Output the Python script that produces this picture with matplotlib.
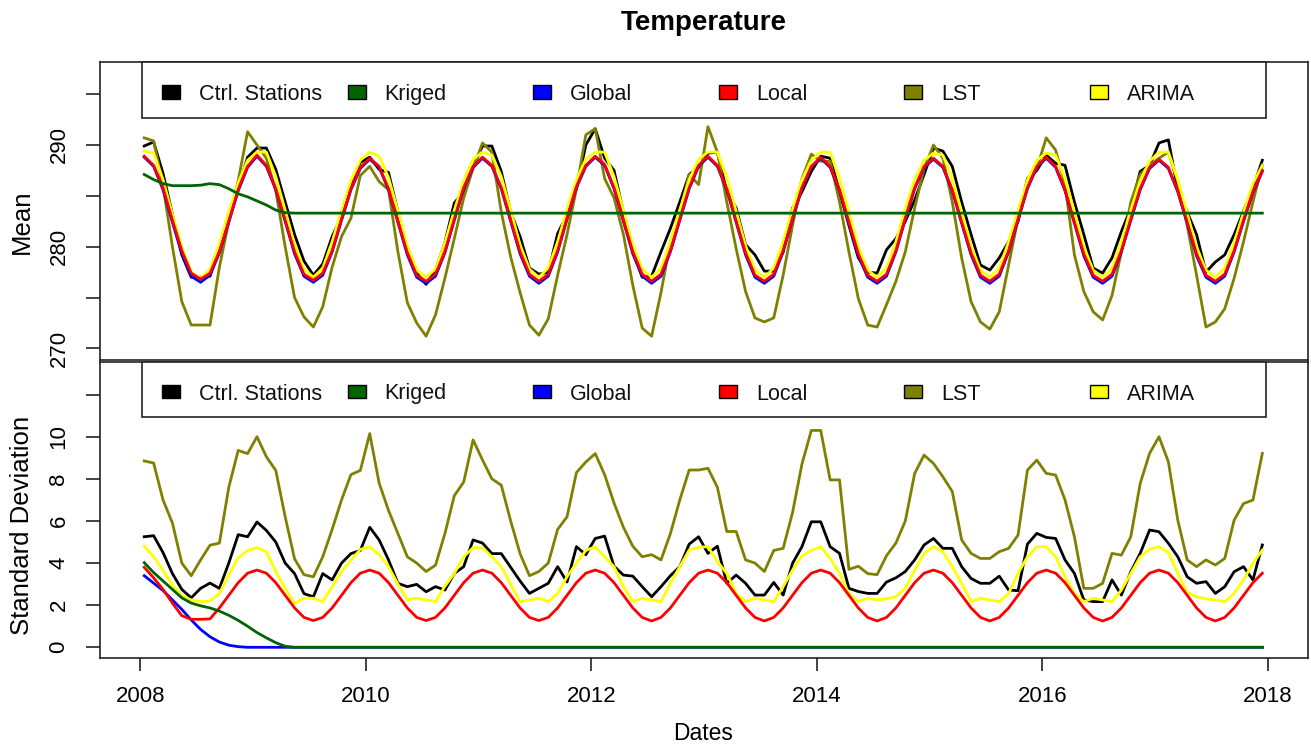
import numpy as np
import matplotlib
matplotlib.use("Agg")
import matplotlib.pyplot as plt
from matplotlib.patches import Rectangle

plt.rcParams["font.family"] = ["Liberation Sans", "DejaVu Sans"]

# monthly series, Jan 2008 .. Dec 2017
dates = 2008 + (np.arange(120) + 0.4) / 12

ctrl_mean = [
    289.9, 290.3, 287.2, 283.2, 279.2, 277.0, 277.0, 277.1, 280.0, 283.3, 285.8, 288.8,
    289.7, 289.7, 287.6, 284.4, 281.2, 278.6, 277.2, 278.3, 281.0, 283.0, 286.2, 288.3,
    288.8, 287.6, 287.3, 283.4, 279.5, 277.4, 276.3, 277.7, 280.4, 284.3, 285.4, 287.8,
    289.9, 289.9, 287.4, 283.4, 281.0, 277.9, 277.3, 277.5, 281.3, 283.1, 285.7, 290.0,
    291.6, 288.7, 287.5, 283.4, 279.5, 277.0, 277.1, 279.5, 281.8, 284.4, 287.1, 287.8,
    289.2, 289.3, 285.4, 283.8, 280.2, 279.2, 277.6, 277.6, 279.5, 283.8, 285.4, 287.4,
    288.9, 288.7, 285.4, 282.1, 278.9, 277.5, 277.4, 279.7, 280.8, 282.5, 284.6, 287.1,
    289.7, 289.4, 287.9, 284.4, 281.2, 278.2, 277.7, 278.9, 280.5, 282.5, 286.6, 287.5,
    289.0, 288.2, 288.0, 284.4, 281.2, 277.9, 277.4, 278.9, 281.5, 283.8, 287.4, 288.0,
    290.2, 290.5, 285.6, 283.4, 281.2, 277.5, 278.5, 279.2, 281.2, 283.5, 285.8, 288.5,
]
kriged_mean = [
    287.1, 286.6, 286.2, 286.0, 286.0, 286.0, 286.05, 286.2, 286.1, 285.7, 285.2, 284.9,
    284.5, 284.1, 283.6, 283.35,
] + [283.3] * 104
global_mean = [
    288.8, 287.9, 285.6, 282.4, 279.3, 277.1, 276.5, 277.2, 279.4, 282.4, 285.5, 287.8,
    288.9, 287.9, 285.6, 282.5, 279.3, 277.1, 276.5, 277.2, 279.5, 282.6, 285.6, 287.7,
    288.6, 287.8, 285.6, 282.4, 279.2, 277.0, 276.4, 277.1, 279.4, 282.6, 285.7, 287.8,
    288.7, 287.9, 285.7, 282.5, 279.3, 277.1, 276.4, 277.1, 279.5, 282.7, 285.8, 287.9,
    288.8, 288.0, 285.7, 282.5, 279.3, 277.1, 276.4, 277.1, 279.5, 282.6, 285.7, 287.9,
    288.8, 287.9, 285.6, 282.4, 279.2, 277.0, 276.4, 277.1, 279.5, 282.7, 285.7, 287.8,
    288.7, 287.8, 285.5, 282.3, 279.1, 277.0, 276.4, 277.1, 279.5, 282.7, 285.7, 287.8,
    288.6, 287.8, 285.5, 282.3, 279.2, 277.0, 276.4, 277.1, 279.5, 282.6, 285.7, 287.8,
    288.7, 287.8, 285.5, 282.3, 279.1, 277.0, 276.4, 277.1, 279.5, 282.6, 285.6, 287.7,
    288.5, 287.7, 285.4, 282.3, 279.1, 277.0, 276.4, 277.1, 279.5, 282.5, 285.3, 287.4,
]
local_mean = [
    288.9, 288.0, 285.8, 282.6, 279.6, 277.4, 276.8, 277.4, 279.5, 282.5, 285.6, 287.9,
    289.0, 288.0, 285.7, 282.6, 279.5, 277.3, 276.7, 277.4, 279.6, 282.7, 285.7, 287.8,
    288.7, 287.9, 285.7, 282.5, 279.4, 277.2, 276.6, 277.3, 279.5, 282.7, 285.8, 287.9,
    288.8, 288.0, 285.8, 282.6, 279.5, 277.3, 276.6, 277.3, 279.6, 282.8, 285.9, 288.0,
    288.9, 288.1, 285.8, 282.6, 279.5, 277.3, 276.6, 277.3, 279.6, 282.7, 285.8, 288.0,
    288.9, 288.0, 285.7, 282.5, 279.4, 277.2, 276.6, 277.3, 279.6, 282.8, 285.8, 287.9,
    288.8, 287.9, 285.6, 282.4, 279.3, 277.2, 276.6, 277.3, 279.6, 282.8, 285.8, 287.9,
    288.7, 287.9, 285.6, 282.4, 279.4, 277.2, 276.6, 277.3, 279.6, 282.7, 285.8, 287.9,
    288.8, 287.9, 285.6, 282.4, 279.3, 277.2, 276.6, 277.3, 279.6, 282.7, 285.7, 287.8,
    288.6, 287.8, 285.5, 282.4, 279.3, 277.2, 276.6, 277.3, 279.6, 282.6, 285.4, 287.5,
]
lst_mean = [
    290.7, 290.4, 286.0, 280.0, 274.6, 272.3, 272.3, 272.3, 278.0, 282.5, 286.5, 291.3,
    290.0, 288.7, 285.5, 280.0, 275.0, 273.1, 272.1, 274.1, 278.0, 281.0, 282.8, 287.0,
    287.9, 286.4, 285.6, 279.5, 274.5, 272.5, 271.2, 273.3, 276.9, 280.8, 284.8, 287.7,
    290.2, 289.3, 283.4, 279.0, 275.5, 272.3, 271.3, 272.9, 277.2, 281.2, 285.7, 291.0,
    291.6, 286.7, 284.8, 281.2, 276.2, 272.0, 271.2, 275.5, 280.5, 283.4, 287.1, 286.1,
    291.8, 289.3, 284.4, 279.8, 275.6, 273.0, 272.6, 273.0, 277.2, 282.1, 286.7, 289.1,
    288.4, 288.4, 284.4, 279.5, 274.9, 272.3, 272.1, 274.3, 276.6, 279.5, 283.8, 287.7,
    290.0, 288.7, 284.4, 278.9, 274.6, 272.6, 271.9, 273.6, 278.2, 282.8, 286.7, 287.7,
    290.7, 289.5, 286.1, 279.2, 275.6, 273.6, 272.8, 275.2, 279.5, 284.4, 287.1, 288.0,
    288.7, 289.3, 286.4, 282.1, 277.2, 272.1, 272.6, 273.9, 276.9, 280.5, 284.4, 288.0,
]
arima_mean = [
    289.4, 289.2, 286.6, 283.2, 280.0, 277.5, 276.9, 277.8, 280.3, 283.4, 286.3, 288.5,
    289.3, 289.3, 286.9, 283.6, 280.2, 277.8, 277.0, 277.9, 280.5, 283.6, 286.5, 288.5,
    289.3, 288.9, 286.8, 283.5, 280.1, 277.7, 277.0, 277.8, 280.4, 283.6, 286.5, 288.6,
    289.3, 289.0, 286.9, 283.6, 280.2, 277.8, 277.0, 277.9, 280.5, 283.7, 286.6, 288.6,
    289.3, 289.3, 286.9, 283.6, 280.2, 277.8, 277.0, 277.9, 280.5, 283.6, 286.6, 288.6,
    289.3, 289.3, 286.8, 283.5, 280.1, 277.7, 277.0, 277.9, 280.5, 283.7, 286.6, 288.5,
    289.3, 289.3, 286.7, 283.4, 280.0, 277.7, 277.0, 277.9, 280.5, 283.7, 286.6, 288.5,
    289.2, 289.0, 286.7, 283.4, 280.1, 277.7, 277.0, 277.9, 280.5, 283.6, 286.5, 288.5,
    289.2, 289.0, 286.7, 283.4, 280.0, 277.7, 277.0, 277.9, 280.5, 283.6, 286.5, 288.4,
    289.3, 289.3, 286.6, 283.3, 280.0, 277.7, 277.0, 277.9, 280.4, 283.4, 286.2, 288.0,
]

ctrl_sd = [
    5.25, 5.30, 4.50, 3.50, 2.75, 2.35, 2.80, 3.05, 2.80, 4.00, 5.35, 5.25,
    5.95, 5.55, 5.00, 4.00, 3.50, 2.55, 2.40, 3.50, 3.20, 4.00, 4.45, 4.60,
    5.70, 5.10, 4.15, 3.04, 2.88, 2.99, 2.64, 2.88, 2.72, 3.51, 3.83, 5.10,
    4.95, 4.45, 4.45, 3.80, 3.15, 2.56, 2.80, 3.04, 3.83, 3.10, 4.78, 4.40,
    5.17, 5.28, 3.85, 3.43, 3.38, 2.88, 2.40, 2.88, 3.40, 3.83, 4.90, 5.25,
    4.46, 4.80, 3.04, 3.43, 3.04, 2.48, 2.48, 3.08, 2.48, 3.99, 4.78, 5.96,
    5.96, 4.78, 4.46, 2.80, 2.65, 2.56, 2.56, 3.10, 3.30, 3.60, 4.15, 4.86,
    5.17, 4.70, 4.70, 3.83, 3.27, 3.04, 3.04, 3.38, 2.72, 2.69, 4.90, 5.41,
    5.22, 5.17, 4.15, 3.51, 2.25, 2.17, 2.17, 3.20, 2.48, 3.59, 4.46, 5.57,
    5.49, 4.94, 4.30, 3.35, 3.04, 3.12, 2.56, 2.88, 3.59, 3.83, 3.20, 4.86,
]
kriged_sd = [
    4.02, 3.55, 3.15, 2.75, 2.35, 2.10, 1.97, 1.87, 1.72, 1.52, 1.28, 1.00,
    0.70, 0.45, 0.22, 0.05,
] + [0.0] * 104
global_sd = [
    3.40, 3.05, 2.70, 2.25, 1.80, 1.30, 0.85, 0.50, 0.25, 0.10, 0.03,
] + [0.0] * 109
local_sd = [
    3.80, 3.30, 2.75, 2.10, 1.50, 1.33, 1.33, 1.35, 1.87, 2.47, 3.07, 3.52,
    3.67, 3.52, 3.07, 2.47, 1.87, 1.42, 1.27, 1.42, 1.87, 2.47, 3.07, 3.52,
    3.67, 3.52, 3.07, 2.47, 1.87, 1.42, 1.27, 1.42, 1.87, 2.47, 3.07, 3.52,
    3.67, 3.52, 3.07, 2.47, 1.87, 1.42, 1.27, 1.42, 1.87, 2.47, 3.07, 3.52,
    3.67, 3.52, 3.07, 2.47, 1.87, 1.42, 1.25, 1.42, 1.87, 2.47, 3.07, 3.52,
    3.67, 3.52, 3.07, 2.47, 1.87, 1.42, 1.25, 1.42, 1.87, 2.47, 3.07, 3.52,
    3.67, 3.52, 3.07, 2.47, 1.87, 1.42, 1.25, 1.42, 1.87, 2.47, 3.07, 3.52,
    3.67, 3.52, 3.07, 2.47, 1.87, 1.42, 1.25, 1.42, 1.87, 2.47, 3.07, 3.52,
    3.67, 3.52, 3.07, 2.47, 1.87, 1.42, 1.25, 1.42, 1.87, 2.47, 3.07, 3.52,
    3.67, 3.52, 3.07, 2.47, 1.87, 1.42, 1.25, 1.42, 1.87, 2.47, 3.07, 3.52,
]
lst_sd = [
    8.85, 8.75, 7.00, 5.90, 4.00, 3.40, 4.15, 4.85, 4.95, 7.60, 9.35, 9.20,
    10.00, 9.05, 8.40, 6.20, 4.20, 3.45, 3.35, 4.30, 5.60, 7.00, 8.20, 8.40,
    10.15, 7.80, 6.50, 5.40, 4.30, 4.00, 3.60, 3.90, 5.40, 7.20, 7.85, 9.85,
    8.90, 8.00, 7.70, 6.00, 4.45, 3.40, 3.60, 4.00, 5.60, 6.20, 8.30, 8.80,
    9.20, 8.20, 6.85, 5.70, 4.80, 4.30, 4.40, 4.15, 5.40, 7.00, 8.42, 8.42,
    8.50, 7.60, 5.50, 5.50, 4.15, 4.00, 3.60, 4.60, 4.70, 6.40, 8.70, 10.30,
    10.30, 7.95, 7.95, 3.70, 3.85, 3.50, 3.45, 4.35, 4.95, 6.00, 8.26, 9.13,
    8.73, 8.10, 7.40, 5.10, 4.46, 4.22, 4.22, 4.54, 4.70, 5.33, 8.42, 8.89,
    8.26, 8.18, 7.00, 5.25, 2.80, 2.80, 3.04, 4.46, 4.38, 5.25, 7.78, 9.21,
    10.00, 8.81, 6.04, 4.15, 3.83, 4.15, 3.91, 4.22, 6.04, 6.83, 6.99, 9.21,
]
arima_sd = [
    4.80, 4.30, 3.65, 2.95, 2.45, 2.25, 2.17, 2.20, 2.56, 3.45, 4.25, 4.60,
    4.73, 4.54, 3.60, 2.80, 2.09, 2.33, 2.33, 2.17, 2.88, 3.60, 4.14, 4.65,
    4.78, 4.40, 3.83, 3.00, 2.25, 2.33, 2.25, 2.17, 2.90, 3.51, 4.30, 4.73,
    4.73, 4.30, 3.83, 3.00, 2.17, 2.25, 2.33, 2.17, 2.56, 3.35, 4.00, 4.60,
    4.78, 4.30, 3.83, 2.88, 2.17, 2.33, 2.25, 2.17, 3.04, 3.83, 4.62, 4.75,
    4.78, 4.07, 3.51, 2.56, 2.17, 2.33, 2.25, 2.17, 2.88, 3.67, 4.35, 4.60,
    4.78, 4.22, 3.51, 2.56, 2.17, 2.33, 2.25, 2.30, 2.40, 2.80, 3.67, 4.46,
    4.78, 4.54, 3.83, 3.04, 2.17, 2.33, 2.25, 2.17, 2.56, 3.51, 4.30, 4.78,
    4.78, 4.30, 3.35, 2.56, 2.17, 2.33, 2.25, 2.17, 2.72, 3.51, 4.30, 4.65,
    4.78, 4.50, 3.51, 2.60, 2.40, 2.30, 2.25, 2.17, 2.56, 3.20, 3.99, 4.62,
]

names = ["Ctrl. Stations", "Kriged", "Global", "Local", "LST", "ARIMA"]
colors = ["black", "#006400", "#0000FF", "#FF0000", "#808000", "#FFFF00"]
mean_series = [ctrl_mean, kriged_mean, global_mean, local_mean, lst_mean, arima_mean]
sd_series = [ctrl_sd, kriged_sd, global_sd, local_sd, lst_sd, arima_sd]
draw_order = [0, 4, 5, 2, 3, 1]

W, H = 1311, 746
fig = plt.figure(figsize=(W / 100, H / 100), dpi=100)


def px_box(left, top, right, bottom):
    return [left / W, 1 - bottom / H, (right - left) / W, (bottom - top) / H]


ax1 = fig.add_axes(px_box(100, 62, 1308, 360))
ax2 = fig.add_axes(px_box(100, 362, 1308, 658))

edge = "#222222"
for ax, series in [(ax1, mean_series), (ax2, sd_series)]:
    for i in draw_order:
        ax.plot(dates, series[i], color=colors[i], lw=2.0)
    ax.set_xlim(2007.641, 2018.355)
    for sp in ax.spines.values():
        sp.set_linewidth(1.2)
        sp.set_color(edge)
    ax.tick_params(axis="y", length=10, width=1.2, color=edge, pad=12, labelsize=16)

ax1.set_ylim(268.86, 298.16)
ax1.set_yticks([270, 275, 280, 285, 290, 295])
ax1.set_yticklabels(["270", "", "280", "", "290", ""])
ax1.set_xticks([])

ax2.set_ylim(-0.508, 13.55)
ax2.set_yticks([0, 2, 4, 6, 8, 10, 12])
ax2.set_yticklabels(["0", "2", "4", "6", "8", "10", ""])
ax2.set_xticks([2008, 2010, 2012, 2014, 2016, 2018])
ax2.set_xticklabels(["2008", "2010", "2012", "2014", "2016", "2018"])
ax2.tick_params(axis="x", length=9.5, width=1.2, color=edge, pad=11, labelsize=16)

for ax in (ax1, ax2):
    for lab in ax.get_yticklabels():
        lab.set_rotation(90)
        lab.set_va("center")


# legend strip along the top of each panel
def legend_strip(top, bottom):
    fig.patches.append(Rectangle((142 / W, 1 - bottom / H), (1266 - 142) / W, (bottom - top) / H,
                                 transform=fig.transFigure, facecolor="white",
                                 edgecolor=edge, lw=1.2, zorder=5))
    yc = (top + bottom) / 2 + 2
    for k, (name, col) in enumerate(zip(names, colors)):
        xs = 171 + 185.6 * k
        fig.patches.append(Rectangle(((xs - 9) / W, 1 - (yc + 6.5) / H), 18 / W, 13 / H,
                                     transform=fig.transFigure, facecolor=col,
                                     edgecolor="black", lw=1.0, zorder=6))
        fig.text((xs + 28) / W, 1 - (yc + 8) / H, name, fontsize=15.5, ha="left",
                 va="baseline", color="#111111", zorder=7)


legend_strip(62, 118)
legend_strip(362, 417)

fig.text(704 / W, 1 - 23 / H, "Temperature", fontsize=20, fontweight="bold",
         ha="center", va="center")
fig.text(22 / W, 1 - 222 / H, "Mean", fontsize=18.5, rotation=90, ha="center", va="center")
fig.text(22 / W, 1 - 525 / H, "Standard Deviation", fontsize=18.5, rotation=90,
         ha="center", va="center")
fig.text(703 / W, 1 - 733 / H, "Dates", fontsize=16.5, ha="center", va="center")

fig.savefig("out.png", dpi=100)
